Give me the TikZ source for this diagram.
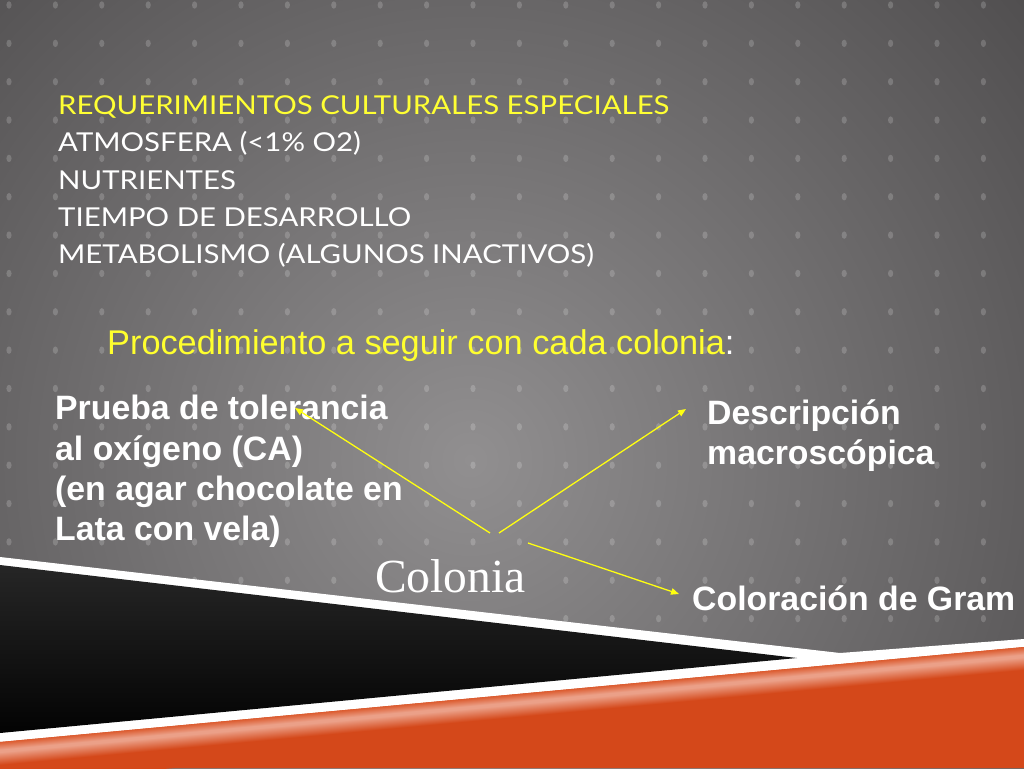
\documentclass[tikz,border=0pt]{standalone}
\usepackage{fontspec}
\usepackage{graphicx}
\setmainfont{Liberation Sans}
\newfontfamily\gillfont{Lato}
\newfontfamily\seriffont{Liberation Serif}
\usetikzlibrary{arrows.meta}
\definecolor{bgin}{HTML}{918F90}
\definecolor{bgout}{HTML}{504E4F}
\definecolor{headyellow}{HTML}{FFFF33}
\definecolor{proyellow}{HTML}{FFFF2E}
\definecolor{arrowyellow}{HTML}{FFFF10}
\definecolor{orangebase}{HTML}{D4481A}
\definecolor{orangetop}{HTML}{DC5C30}
\definecolor{glow}{HTML}{EBA088}
\definecolor{blacktop}{HTML}{262626}
\definecolor{blackbot}{HTML}{030303}
\pgfdeclareverticalshading{orangeglow}{100bp}{color(0bp)=(orangebase); color(25bp)=(orangebase); color(48bp)=(orangebase); color(63bp)=(glow); color(66bp)=(glow); color(75bp)=(orangetop); color(100bp)=(orangetop)}
\begin{document}
\begin{tikzpicture}[x=1pt,y=-1pt,
  toptext/.style={anchor=base west,inner sep=0pt,font=\gillfont\fontsize{26}{30}\selectfont,text=white},
  boldtext/.style={anchor=base west,inner sep=0pt,font=\bfseries\fontsize{33.8}{38}\selectfont,text=white},
  dotmark/.style={fill=white,fill opacity=0.18},
  link/.style={draw=arrowyellow,line width=1.3pt,-{Triangle[length=8pt,width=6.5pt]}}]
\useasboundingbox (0,0) rectangle (1024,768);
% background
\begin{scope}
\clip (0,0) rectangle (1024,768);
\shade[inner color=bgin,outer color=bgout] (470,460) circle (730pt);
\foreach \i in {0,...,21}{
  \foreach \j in {0,...,17}{
    \fill[dotmark] ({9+46.4*\i},{5+38.35*\j}) ellipse (2.6pt and 3.7pt);
  }
}
% bottom bands
\fill[white] (0,557) -- (840,653) -- (1024,639) -- (1024,768) -- (0,768) -- cycle;
\shade[top color=blacktop,bottom color=blackbot] (0,565) -- (797,658) -- (0,733) -- cycle;
\fill[orangebase] (0,742) -- (1024,647) -- (1024,768) -- (0,768) -- cycle;
\begin{scope}[transform canvas={rotate around={5.3:(0,742)}}]
\shade[shading=orangeglow] (-60,742) rectangle (1200,784);
\end{scope}
\end{scope}
% top text block
\node[toptext,text=headyellow] (req) at (58,114) {\scalebox{1.13}[1]{REQUERIMIENTOS CULTURALES ESPECIALES}};
\node[toptext] (atm) at (58,151) {\scalebox{1.13}[1]{ATMOSFERA (<1\% O2)}};
\node[toptext] (nut) at (58,189) {\scalebox{1.13}[1]{NUTRIENTES}};
\node[toptext] (tie) at (58,226) {\scalebox{1.13}[1]{TIEMPO DE DESARROLLO}};
\node[toptext] (met) at (58,263) {\scalebox{1.13}[1]{METABOLISMO (ALGUNOS INACTIVOS)}};
% procedure title
\node[anchor=base west,inner sep=0pt,font=\fontsize{34.3}{38}\selectfont,text=proyellow] (proc) at (107,354) {Procedimiento a seguir con cada colonia\textcolor{white}{:}};
% left block
\node[boldtext] (p1) at (55,419) {Prueba de tolerancia};
\node[boldtext] (p2) at (55,460) {al ox\'igeno (CA)};
\node[boldtext] (p3) at (55,500) {(en agar chocolate en};
\node[boldtext] (p4) at (55,540) {Lata con vela)};
% right block
\node[boldtext] (d1) at (707,424) {Descripci\'on};
\node[boldtext] (d2) at (707,464) {macrosc\'opica};
\node[boldtext] (gram) at (692,610) {Coloraci\'on de Gram};
% colonia
\node[anchor=base west,inner sep=0pt,font=\seriffont\fontsize{47.5}{50}\selectfont,text=white] (colonia) at (375,592) {Colonia};
% connectors
\coordinate (s1) at (490,533);
\coordinate (s2) at (499,533);
\coordinate (s3) at (528,543);
\coordinate (t1) at (295,408);
\coordinate (t2) at (686,409);
\coordinate (t3) at (679,594);
\draw[link] (s1) -- (t1);
\draw[link] (s2) -- (t2);
\draw[link] (s3) -- (t3);
\end{tikzpicture}
\end{document}
